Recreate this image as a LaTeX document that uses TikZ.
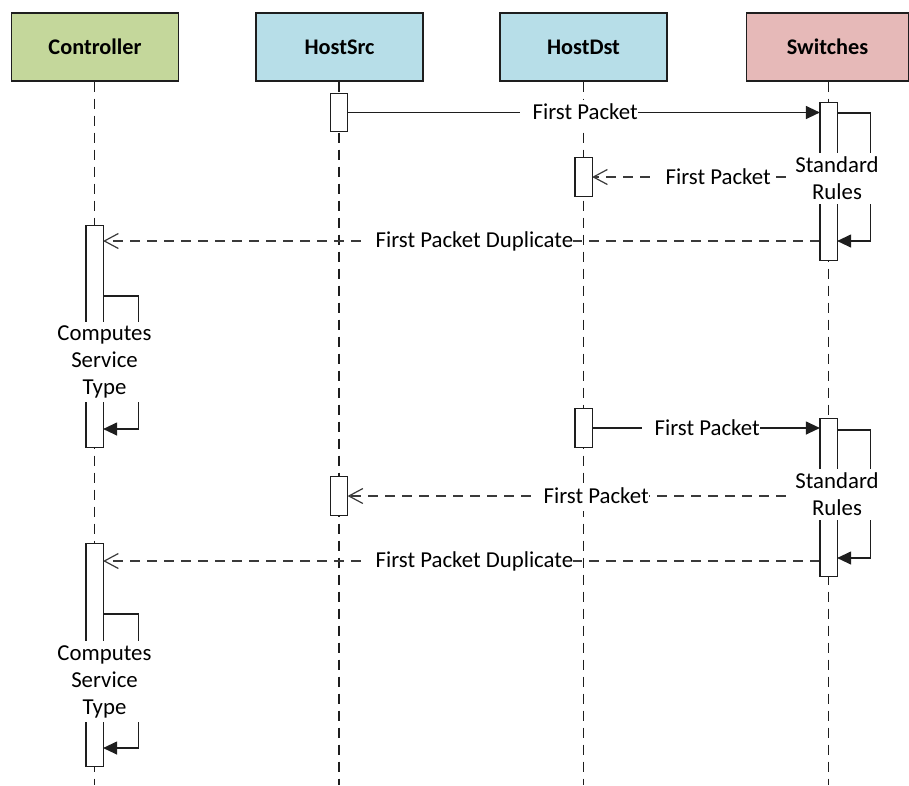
\documentclass[tikz,border=0pt]{standalone}
\usepackage{fontspec}
\setmainfont{Carlito}
\usetikzlibrary{arrows.meta}
\definecolor{ctlgreen}{HTML}{C4D79B}
\definecolor{hostblue}{HTML}{B7DEE8}
\definecolor{swred}{HTML}{E6B9B8}
\definecolor{ink}{HTML}{1E1E1E}
\definecolor{dashink}{HTML}{3A3A3A}

\begin{document}
\begin{tikzpicture}[x=1pt, y=-1pt, line width=1.2pt,
  font=\fontsize{22.8}{27}\selectfont,
  actor/.style={draw=ink, minimum width=167pt, minimum height=68pt, inner sep=0pt,
                font=\fontsize{22.3}{27}\selectfont\bfseries},
  lifeline/.style={draw=ink, line width=1.2pt, dash pattern=on 10pt off 7pt},
  bar/.style={draw=ink, fill=white, minimum width=16pt, inner sep=0pt},
  sync/.style={draw=ink, -{Triangle[length=14pt,width=13pt]}},
  reply/.style={draw=dashink, dash pattern=on 10pt off 7pt,
                -{Straight Barb[length=14pt,width=15pt]}},
  lbl/.style={fill=white, inner ysep=2pt, inner xsep=0pt, anchor=west,
              text height=18pt, text depth=5pt,
              execute at begin node={\hspace*{13pt}}},
  note/.style={fill=white, align=center, inner xsep=2pt, inner ysep=4pt}
]
\useasboundingbox (0,0) rectangle (909,785);
\coordinate (bottom) at (0,785);

% participants
\node[actor, fill=ctlgreen] (ctl) at (95,47) {Controller};
\node[actor, fill=hostblue] (hsrc) at (339.5,47) {HostSrc};
\node[actor, fill=hostblue] (hdst) at (583.5,47) {HostDst};
\node[actor, fill=swred, minimum width=162pt] (sw) at (827.5,47) {Switches};

% activation bars (positions only; drawn again on top later)
\node[bar, minimum height=37pt]  (hs1) at (339,112.5) {};
\node[bar, minimum height=157pt] (sw1) at (828.5,181.5) {};
\node[bar, minimum height=38pt]  (hd1) at (583.5,177) {};
\node[bar, minimum height=221pt] (cb1) at (94.5,336.5) {};
\node[bar, minimum height=38pt]  (hd2) at (583.5,428) {};
\node[bar, minimum height=157pt] (sw2) at (828.5,497.5) {};
\node[bar, minimum height=38pt]  (hs2) at (339,496) {};
\node[bar, minimum height=222pt] (cb2) at (94.5,655) {};

% lifelines
\draw[lifeline] (ctl.south -| cb1) -- (cb1 |- bottom);
\draw[lifeline] (hsrc.south -| hs1) -- (hs1 |- bottom);
\draw[lifeline] (hdst.south -| hd1) -- (hd1 |- bottom);
\draw[lifeline] (sw.south -| sw1) -- (sw1 |- bottom);

% message rows
\coordinate (r3) at (0,241);
\coordinate (r6) at (0,561);
\coordinate (s1a) at (0,113);
\coordinate (s1b) at (0,241);
\coordinate (s2a) at (0,430);
\coordinate (s2b) at (0,558);
\coordinate (c1a) at (0,296);
\coordinate (c1b) at (0,429);
\coordinate (c2a) at (0,614);
\coordinate (c2b) at (0,748);

% messages
\draw[sync]  (hs1.east) -- (hs1.east -| sw1.west);
\draw[reply] (hd1.east -| sw1.west) -- (hd1.east);
\draw[reply] (sw1.west |- r3) -- (cb1.east |- r3);
\draw[sync]  (sw1.east |- s1a) -- ++(33,0) |- (sw1.east |- s1b);
\draw[sync]  (cb1.east |- c1a) -- ++(35,0) |- (cb1.east |- c1b);

\draw[sync]  (hd2.east) -- (hd2.east -| sw2.west);
\draw[reply] (hs2.east -| sw2.west) -- (hs2.east);
\draw[reply] (sw2.west |- r6) -- (cb2.east |- r6);
\draw[sync]  (sw2.east |- s2a) -- ++(33,0) |- (sw2.east |- s2b);
\draw[sync]  (cb2.east |- c2a) -- ++(35,0) |- (cb2.east |- c2b);

% bars over the lifelines
\foreach \b in {hs1,sw1,hd1,cb1,hd2,sw2,hs2,cb2}
  \draw[ink, fill=white] (\b.south west) rectangle (\b.north east);

% message labels
\node[lbl] (l1) at (519,113) {First Packet};
\node[lbl] (l2) at (652,178) {First Packet};
\node[lbl] (l3) at (362,241) {First Packet Duplicate};
\node[lbl] (l4) at (641,429) {First Packet};
\node[lbl] (l5) at (530,497) {First Packet};
\node[lbl] (l6) at (362,561) {First Packet Duplicate};

% self-call notes
\node[note] (sr1) at (837,178) {Standard\\Rules};
\node[note] (sr2) at (837,494) {Standard\\Rules};
\node[note] (cn1) at (104.5,362) {Computes\\Service\\Type};
\node[note] (cn2) at (104.5,681.5) {Computes\\Service\\Type};
\end{tikzpicture}
\end{document}
